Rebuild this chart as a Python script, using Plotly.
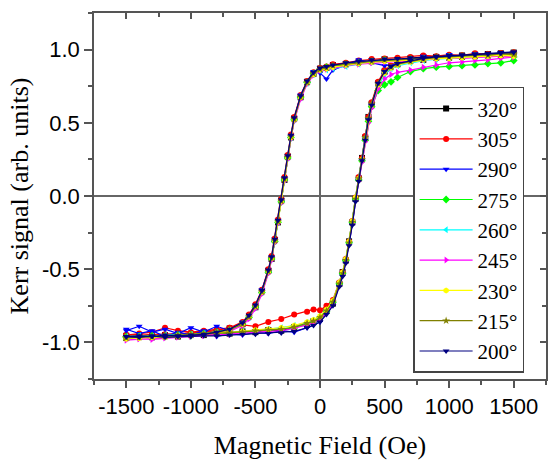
import plotly.graph_objects as go

# Field sweep positions (Oe): descending branch (+1500 -> -1500), ascending branch (-1500 -> +1500)
H_down = [1500, 1400, 1300, 1200, 1100, 1000, 900, 800, 700, 600, 500, 400, 300, 200, 100,
          50, 0, -50, -100, -150, -200, -225, -250, -275, -300, -325, -350, -375, -400, -450, -500, -550, -600,
          -700, -800, -900, -1000, -1100, -1200, -1300, -1400, -1500]
H_up = [-1500, -1400, -1300, -1200, -1100, -1000, -900, -800, -700, -600, -500, -400, -300, -200,
        -100, -50, 0, 50, 100, 150, 175, 200, 225, 250, 275, 300, 325, 350, 375, 400, 450, 500, 550, 600,
        700, 800, 900, 1000, 1100, 1200, 1300, 1400, 1500]

labels = ["320°", "305°", "290°", "275°", "260°", "245°", "230°", "215°", "200°"]
colors = ["#000000", "#FF0000", "#0000FF", "#00FF00", "#00FFFF", "#FF00FF", "#FFFF00", "#808000", "#000080"]
symbols = ["square", "circle", "triangle-down", "diamond", "triangle-left", "triangle-right",
           "hexagon", "star", "triangle-down"]

M320_down = [0.97, 0.975, 0.96, 0.965, 0.95, 0.955, 0.945, 0.95, 0.94, 0.93, 0.935, 0.92, 0.915, 0.90, 0.895,
             0.875, 0.87, 0.835, 0.78, 0.675, 0.53, 0.40, 0.27, 0.11, -0.03, -0.18, -0.30, -0.43, -0.51, -0.65, -0.76, -0.82, -0.875,
             -0.905, -0.93, -0.93, -0.945, -0.94, -0.955, -0.945, -0.96, -0.955]
M320_up = [-0.97, -0.955, -0.965, -0.95, -0.96, -0.945, -0.95, -0.935, -0.94, -0.925, -0.93, -0.915, -0.92, -0.895,
           -0.88, -0.855, -0.84, -0.785, -0.735, -0.60, -0.52, -0.44, -0.31, -0.18, -0.02, 0.12, 0.26, 0.40, 0.54, 0.63, 0.77, 0.85, 0.885, 0.90,
           0.925, 0.93, 0.95, 0.945, 0.96, 0.955, 0.97, 0.965, 0.98]

M305_down = [0.98, 0.975, 0.97, 0.975, 0.96, 0.965, 0.955, 0.96, 0.95, 0.945, 0.94, 0.935, 0.925, 0.91, 0.90,
             0.885, 0.875, 0.845, 0.785, 0.69, 0.54, 0.42, 0.28, 0.13, -0.02, -0.16, -0.29, -0.41, -0.50, -0.64, -0.74, -0.81, -0.86,
             -0.90, -0.92, -0.93, -0.935, -0.94, -0.945, -0.95, -0.95, -0.95]
M305_up = [-0.95, -0.94, -0.93, -0.90, -0.92, -0.93, -0.92, -0.91, -0.90, -0.88, -0.89, -0.86, -0.84, -0.81,
           -0.79, -0.775, -0.78, -0.75, -0.71, -0.59, -0.52, -0.43, -0.31, -0.17, -0.01, 0.13, 0.26, 0.41, 0.54, 0.64, 0.78, 0.86, 0.89, 0.91,
           0.93, 0.945, 0.95, 0.96, 0.96, 0.965, 0.97, 0.975, 0.98]

M290_down = [0.96, 0.98, 0.95, 0.97, 0.94, 0.965, 0.93, 0.955, 0.92, 0.90, 0.89, 0.91, 0.93, 0.895, 0.86,
             0.80, 0.84, 0.85, 0.77, 0.69, 0.52, 0.41, 0.26, 0.12, -0.04, -0.17, -0.31, -0.42, -0.52, -0.64, -0.76, -0.83, -0.86,
             -0.92, -0.89, -0.93, -0.90, -0.94, -0.91, -0.93, -0.89, -0.92]
M290_up = [-0.91, -0.94, -0.92, -0.96, -0.93, -0.95, -0.92, -0.96, -0.94, -0.95, -0.93, -0.94, -0.92, -0.93,
           -0.90, -0.88, -0.86, -0.80, -0.74, -0.61, -0.54, -0.44, -0.33, -0.19, -0.03, 0.11, 0.25, 0.39, 0.52, 0.62, 0.76, 0.83, 0.87, 0.90,
           0.93, 0.95, 0.94, 0.965, 0.95, 0.97, 0.955, 0.975, 0.97]

M275_down = [0.95, 0.96, 0.955, 0.95, 0.945, 0.95, 0.94, 0.935, 0.935, 0.925, 0.93, 0.92, 0.91, 0.90, 0.885,
             0.88, 0.865, 0.835, 0.775, 0.675, 0.52, 0.40, 0.26, 0.11, -0.04, -0.18, -0.31, -0.43, -0.52, -0.66, -0.76, -0.83, -0.875,
             -0.915, -0.93, -0.94, -0.945, -0.95, -0.955, -0.955, -0.96, -0.96]
M275_up = [-0.965, -0.96, -0.955, -0.96, -0.95, -0.955, -0.945, -0.94, -0.935, -0.93, -0.925, -0.92, -0.91, -0.90,
           -0.87, -0.86, -0.83, -0.79, -0.725, -0.60, -0.53, -0.44, -0.32, -0.18, -0.02, 0.11, 0.24, 0.38, 0.51, 0.61, 0.72, 0.76, 0.78, 0.81,
           0.85, 0.87, 0.88, 0.885, 0.89, 0.895, 0.905, 0.91, 0.925]

M260_down = [0.96, 0.965, 0.96, 0.955, 0.95, 0.945, 0.945, 0.94, 0.935, 0.93, 0.925, 0.92, 0.90, 0.885, 0.87,
             0.86, 0.855, 0.83, 0.77, 0.67, 0.52, 0.40, 0.26, 0.11, -0.04, -0.18, -0.31, -0.43, -0.52, -0.66, -0.76, -0.83, -0.875,
             -0.915, -0.93, -0.94, -0.945, -0.95, -0.955, -0.96, -0.96, -0.965]
M260_up = [-0.96, -0.955, -0.96, -0.95, -0.95, -0.945, -0.94, -0.935, -0.93, -0.925, -0.92, -0.91, -0.90, -0.885,
           -0.865, -0.85, -0.825, -0.78, -0.72, -0.59, -0.52, -0.43, -0.31, -0.17, -0.01, 0.12, 0.25, 0.40, 0.53, 0.62, 0.75, 0.83, 0.87, 0.89,
           0.91, 0.925, 0.935, 0.94, 0.945, 0.95, 0.955, 0.96, 0.965]

M245_down = [0.95, 0.955, 0.95, 0.945, 0.94, 0.945, 0.935, 0.93, 0.925, 0.92, 0.915, 0.91, 0.90, 0.89, 0.875,
             0.865, 0.855, 0.825, 0.765, 0.66, 0.51, 0.39, 0.25, 0.10, -0.05, -0.19, -0.32, -0.44, -0.53, -0.67, -0.77, -0.84, -0.885,
             -0.925, -0.94, -0.95, -0.955, -0.96, -0.965, -0.97, -0.975, -0.98]
M245_up = [-0.985, -0.975, -0.98, -0.97, -0.965, -0.96, -0.955, -0.95, -0.945, -0.94, -0.935, -0.93, -0.92, -0.905,
           -0.88, -0.865, -0.84, -0.80, -0.74, -0.61, -0.54, -0.45, -0.33, -0.19, -0.03, 0.10, 0.23, 0.37, 0.50, 0.60, 0.73, 0.80, 0.83, 0.845,
           0.86, 0.88, 0.895, 0.91, 0.915, 0.925, 0.93, 0.94, 0.95]

M230_down = [0.955, 0.96, 0.955, 0.95, 0.945, 0.94, 0.94, 0.935, 0.93, 0.925, 0.92, 0.915, 0.905, 0.895, 0.88,
             0.87, 0.86, 0.83, 0.775, 0.675, 0.52, 0.40, 0.265, 0.115, -0.035, -0.175, -0.305, -0.425, -0.515, -0.655, -0.755, -0.825, -0.875,
             -0.915, -0.935, -0.945, -0.95, -0.96, -0.965, -0.965, -0.97, -0.975]
M230_up = [-0.975, -0.97, -0.965, -0.96, -0.955, -0.95, -0.945, -0.94, -0.93, -0.925, -0.915, -0.91, -0.90, -0.885,
           -0.86, -0.845, -0.82, -0.775, -0.715, -0.59, -0.52, -0.43, -0.31, -0.17, -0.01, 0.12, 0.25, 0.39, 0.52, 0.62, 0.76, 0.84, 0.875, 0.895,
           0.915, 0.93, 0.94, 0.945, 0.95, 0.955, 0.96, 0.96, 0.965]

M215_down = [0.965, 0.97, 0.96, 0.965, 0.955, 0.95, 0.95, 0.94, 0.94, 0.93, 0.93, 0.92, 0.91, 0.90, 0.89,
             0.875, 0.865, 0.835, 0.775, 0.675, 0.525, 0.405, 0.265, 0.115, -0.035, -0.175, -0.305, -0.425, -0.515, -0.655, -0.755, -0.825, -0.875,
             -0.915, -0.93, -0.94, -0.945, -0.95, -0.955, -0.96, -0.96, -0.965]
M215_up = [-0.97, -0.965, -0.96, -0.96, -0.955, -0.95, -0.945, -0.94, -0.935, -0.93, -0.92, -0.915, -0.91, -0.895,
           -0.87, -0.855, -0.83, -0.785, -0.725, -0.60, -0.53, -0.44, -0.32, -0.18, -0.02, 0.12, 0.25, 0.40, 0.53, 0.63, 0.77, 0.85, 0.88, 0.90,
           0.92, 0.935, 0.945, 0.95, 0.955, 0.96, 0.965, 0.97, 0.975]

M200_down = [0.985, 0.98, 0.975, 0.97, 0.965, 0.96, 0.955, 0.95, 0.945, 0.94, 0.935, 0.93, 0.92, 0.91, 0.895,
             0.885, 0.875, 0.845, 0.785, 0.685, 0.535, 0.415, 0.275, 0.125, -0.025, -0.165, -0.295, -0.415, -0.505, -0.645, -0.745, -0.815, -0.865,
             -0.91, -0.93, -0.945, -0.95, -0.955, -0.95, -0.96, -0.955, -0.96]
M200_up = [-0.96, -0.965, -0.955, -0.965, -0.96, -0.96, -0.955, -0.955, -0.95, -0.945, -0.945, -0.94, -0.935, -0.925,
           -0.90, -0.885, -0.86, -0.81, -0.75, -0.62, -0.55, -0.46, -0.34, -0.20, -0.04, 0.10, 0.24, 0.38, 0.52, 0.62, 0.77, 0.85, 0.885, 0.905,
           0.925, 0.94, 0.95, 0.955, 0.96, 0.965, 0.97, 0.975, 0.98]

series_down = [M320_down, M305_down, M290_down, M275_down, M260_down, M245_down, M230_down, M215_down, M200_down]
series_up = [M320_up, M305_up, M290_up, M275_up, M260_up, M245_up, M230_up, M215_up, M200_up]

x_ticks = [-1500, -1000, -500, 0, 500, 1000, 1500]
x_ticktext = ["-1500", "-1000", "-500", "0", "500", "1000", "1500"]
x_minor = [-1750, -1250, -750, -250, 250, 750, 1250, 1750]
y_ticks = [-1.0, -0.5, 0.0, 0.5, 1.0]
y_ticktext = ["-1.0", "-0.5", "0.0", "0.5", "1.0"]
y_minor = [-1.25, -0.75, -0.25, 0.25, 0.75, 1.25]

for d, u in zip(series_down, series_up):
    assert len(d) == len(H_down) and len(u) == len(H_up)

fig = go.Figure()
for lab, col, sym, d, u in zip(labels, colors, symbols, series_down, series_up):
    fig.add_trace(go.Scatter(
        x=H_down + H_up, y=d + u, mode="lines+markers", name=lab,
        line=dict(color=col, width=1.2),
        marker=dict(color=col, symbol=sym, size=6, line=dict(width=0)),
    ))
# carrier for the mirrored (inward-ticked) top/right axes
fig.add_trace(go.Scatter(x=[], y=[], xaxis="x2", yaxis="y2", showlegend=False, hoverinfo="skip"))

AX = "#555555"
tickfont = dict(family="Liberation Sans, Arial", size=22, color="#000")
titlefont = dict(family="Liberation Serif, Times New Roman", size=26, color="#000")

fig.update_layout(
    width=548, height=460,
    margin=dict(l=94, r=2, t=13, b=81),
    paper_bgcolor="white", plot_bgcolor="white",
    showlegend=True,
    legend=dict(x=0.706, y=0.798, xanchor="left", yanchor="top",
                font=dict(family="Liberation Serif, Times New Roman", size=21, color="#000"),
                bordercolor="#444", borderwidth=1.5, bgcolor="white",
                itemwidth=53, tracegroupgap=0),
    xaxis=dict(range=[-1750, 1750], tickmode="array", tickvals=x_ticks, ticktext=x_ticktext,
               ticks="outside", ticklen=7, tickwidth=1.5, tickcolor=AX,
               minor=dict(tickvals=x_minor, ticks="outside", ticklen=4, tickwidth=1.5, tickcolor=AX),
               showline=True, linecolor=AX, linewidth=1.5, showgrid=False,
               zeroline=True, zerolinecolor="#666666", zerolinewidth=1.5,
               tickfont=tickfont,
               title=dict(text="Magnetic Field (Oe)", font=titlefont, standoff=22)),
    yaxis=dict(range=[-1.25, 1.25], tickmode="array", tickvals=y_ticks, ticktext=y_ticktext,
               ticks="outside", ticklen=8, tickwidth=1.5, tickcolor=AX,
               minor=dict(tickvals=y_minor, ticks="outside", ticklen=4, tickwidth=1.5, tickcolor=AX),
               showline=True, linecolor=AX, linewidth=1.5, showgrid=False,
               zeroline=True, zerolinecolor="#666666", zerolinewidth=1.5,
               tickfont=tickfont,
               title=dict(text="Kerr signal (arb. units)", font=titlefont, standoff=6)),
    xaxis2=dict(overlaying="x", side="top", anchor="y", range=[-1750, 1750],
                tickmode="array", tickvals=x_ticks, showticklabels=False,
                ticks="inside", ticklen=6, tickwidth=1.5, tickcolor=AX,
                minor=dict(tickvals=x_minor, ticks="inside", ticklen=4, tickwidth=1.5, tickcolor=AX),
                showline=True, linecolor=AX, linewidth=1.5, showgrid=False, zeroline=False),
    yaxis2=dict(overlaying="y", side="right", anchor="x", range=[-1.25, 1.25],
                tickmode="array", tickvals=y_ticks, showticklabels=False,
                ticks="inside", ticklen=6, tickwidth=1.5, tickcolor=AX,
                minor=dict(tickvals=y_minor, ticks="inside", ticklen=4, tickwidth=1.5, tickcolor=AX),
                showline=True, linecolor=AX, linewidth=1.5, showgrid=False, zeroline=False),
)

fig.write_html("out.html")
